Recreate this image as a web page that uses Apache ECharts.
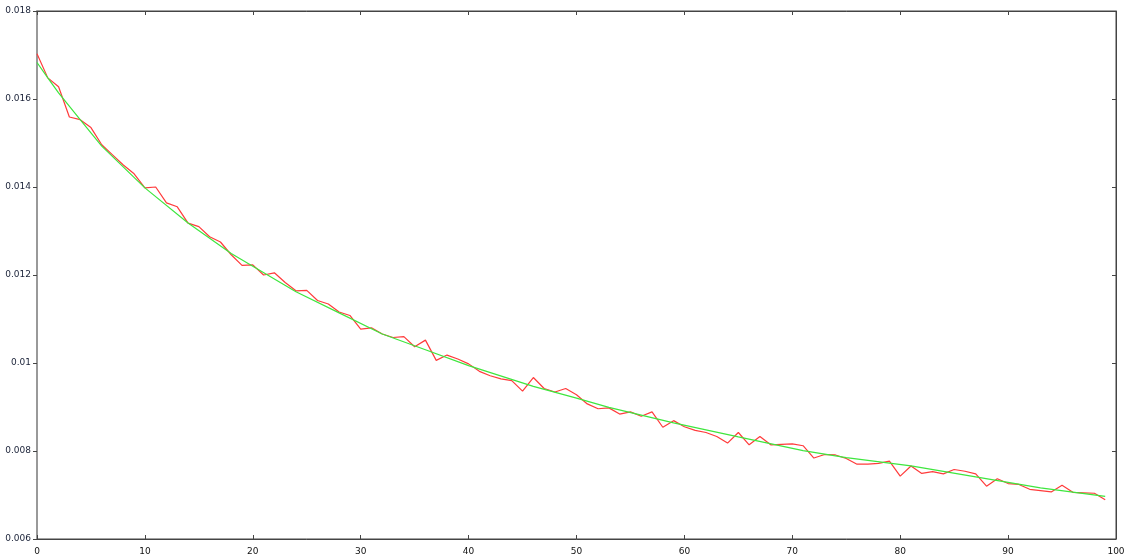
<!DOCTYPE html>
<html>
<head>
<meta charset="utf-8">
<title>Decay with fitted curve</title>
<script src="https://cdn.jsdelivr.net/npm/echarts@6/dist/echarts.min.js"></script>
<style>
  html, body { margin: 0; padding: 0; background: #ffffff; }
  #chart { width: 1131px; height: 556px; }
</style>
</head>
<body>
<div id="chart"></div>
<script>
// Measured values, one per step 0..99
const measured = [
  0.01703, 0.01648, 0.01628, 0.01559, 0.01553, 0.01535, 0.01496, 0.01473, 0.01450, 0.01430,
  0.01398, 0.01400, 0.01364, 0.01355, 0.01318, 0.01310, 0.01287, 0.01275, 0.01246, 0.01222,
  0.01223, 0.01200, 0.01205, 0.01183, 0.01164, 0.01165, 0.01142, 0.01134, 0.01116, 0.01108,
  0.01077, 0.01080, 0.01066, 0.01058, 0.01060, 0.01037, 0.01052, 0.01006, 0.01018, 0.01009,
  0.00998, 0.00981, 0.00971, 0.00964, 0.00960, 0.00936, 0.00967, 0.00942, 0.00934, 0.00942,
  0.00928, 0.00907, 0.00896, 0.00898, 0.00884, 0.00889, 0.00879, 0.00889, 0.00854, 0.00869,
  0.00855, 0.00847, 0.00842, 0.00833, 0.00818, 0.00842, 0.00814, 0.00833, 0.00814, 0.00815,
  0.00816, 0.00812, 0.00784, 0.00792, 0.00791, 0.00783, 0.00770, 0.00770, 0.00772, 0.00777,
  0.00743, 0.00766, 0.00749, 0.00753, 0.00748, 0.00758, 0.00754, 0.00748, 0.00720, 0.00737,
  0.00726, 0.00724, 0.00713, 0.00710, 0.00707, 0.00722, 0.00706, 0.00705, 0.00704, 0.00689
];

// Fitted curve, sampled at these steps
const fitX = [0, 1, 2, 4, 6, 10, 14, 18, 20, 24, 28, 32, 36, 40, 46, 50, 53, 59, 65, 71, 75, 81, 87, 93, 99];
const fitY = [
  0.01683, 0.01648, 0.01614, 0.01553, 0.01493, 0.01398, 0.01318, 0.01249, 0.01220, 0.01162,
  0.01114, 0.01066, 0.01030, 0.00994, 0.00947, 0.00920, 0.00899, 0.00864, 0.00832, 0.00801,
  0.00785, 0.00766, 0.00741, 0.00716, 0.00697
];

// Axis ranges and tick labels
const xMin = 0, xMax = 100, xStep = 10;
const yMin = 0.006, yMax = 0.018, yStep = 0.002;
const yTickLabels = ['0.006', '0.008', '0.01', '0.012', '0.014', '0.016', '0.018'];

const measuredData = measured.map((v, i) => [i, v]);
const fitData = fitX.map((x, i) => [x, fitY[i]]);

const labelFont = { fontFamily: 'DejaVu Sans', fontSize: 9 };

const chart = echarts.init(document.getElementById('chart'), null, { renderer: 'canvas' });
chart.setOption({
  backgroundColor: '#ffffff',
  animation: false,
  grid: {
    left: 37, right: 15, top: 11, bottom: 17,
    show: true, borderColor: '#444', borderWidth: 1, backgroundColor: 'transparent'
  },
  xAxis: [
    {
      type: 'value', min: xMin, max: xMax, interval: xStep, position: 'bottom',
      axisLine: { show: true, onZero: false, lineStyle: { color: '#444', width: 1 } },
      axisTick: { show: true, inside: true, length: 4, lineStyle: { color: '#444' } },
      axisLabel: Object.assign({ color: '#111', margin: 8 }, labelFont),
      splitLine: { show: false }
    },
    {
      type: 'value', min: xMin, max: xMax, interval: xStep, position: 'top',
      axisLine: { show: true, onZero: false, lineStyle: { color: '#444', width: 1 } },
      axisTick: { show: true, inside: true, length: 4, lineStyle: { color: '#444' } },
      axisLabel: { show: false },
      splitLine: { show: false }
    }
  ],
  yAxis: [
    {
      type: 'value', min: yMin, max: yMax, interval: yStep, position: 'left',
      axisLine: { show: true, onZero: false, lineStyle: { color: '#999', width: 2 } },
      axisTick: { show: true, inside: false, length: 4, lineStyle: { color: '#444' } },
      axisLabel: Object.assign({
        color: '#1a2238', margin: 6,
        formatter: v => yTickLabels[Math.round((v - yMin) / yStep)]
      }, labelFont),
      splitLine: { show: false }
    },
    {
      type: 'value', min: yMin, max: yMax, interval: yStep, position: 'right',
      axisLine: { show: true, onZero: false, lineStyle: { color: '#444', width: 1 } },
      axisTick: { show: true, inside: true, length: 4, lineStyle: { color: '#444' } },
      axisLabel: { show: false },
      splitLine: { show: false }
    }
  ],
  series: [
    {
      name: 'measured', type: 'line', data: measuredData,
      xAxisIndex: 0, yAxisIndex: 0,
      showSymbol: false, symbol: 'none',
      lineStyle: { color: '#ff3b3b', width: 1.2 }
    },
    {
      name: 'fit', type: 'line', data: fitData,
      xAxisIndex: 0, yAxisIndex: 0,
      showSymbol: false, symbol: 'none',
      smooth: false,
      lineStyle: { color: '#3ee63e', width: 1.2 }
    }
  ]
});
</script>
</body>
</html>
